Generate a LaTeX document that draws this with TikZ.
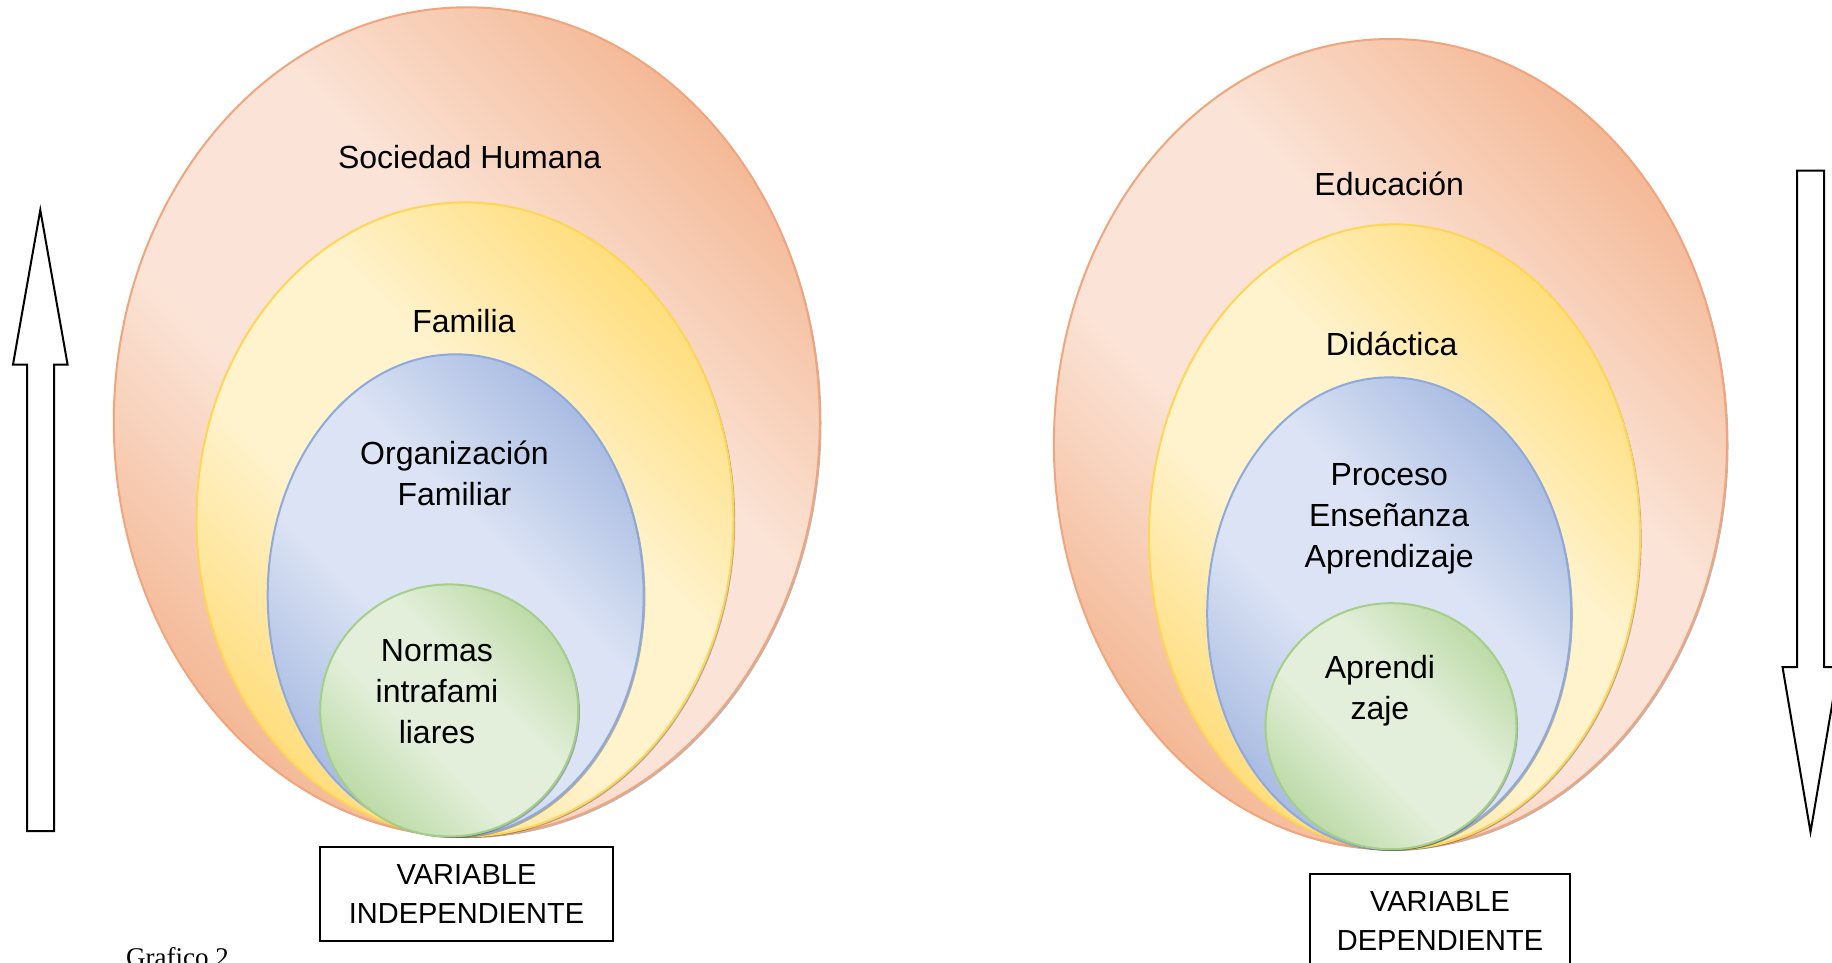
\documentclass[tikz,border=0pt]{standalone}
\usepackage{fontspec}
\setmainfont{Liberation Sans}
\newfontfamily\serifrm{Liberation Serif}
\usetikzlibrary{shapes.geometric}
\definecolor{orD}{HTML}{F3B28C}
\definecolor{orL}{HTML}{FBE4D7}
\definecolor{orE}{HTML}{F2A57C}
\definecolor{yeD}{HTML}{FFDA70}
\definecolor{yeL}{HTML}{FFF3CE}
\definecolor{yeE}{HTML}{FFD555}
\definecolor{blD}{HTML}{A2B6E0}
\definecolor{blL}{HTML}{DBE3F4}
\definecolor{blE}{HTML}{8EA9DB}
\definecolor{grD}{HTML}{B6D79F}
\definecolor{grL}{HTML}{E3EFDA}
\definecolor{grE}{HTML}{A5CF89}
\pgfdeclareverticalshading{orsh}{100bp}{color(0bp)=(orD); color(22bp)=(orD); color(42bp)=(orL); color(58bp)=(orL); color(78bp)=(orD); color(100bp)=(orD)}
\pgfdeclareverticalshading{yesh}{100bp}{color(0bp)=(yeD); color(22bp)=(yeD); color(42bp)=(yeL); color(58bp)=(yeL); color(78bp)=(yeD); color(100bp)=(yeD)}
\pgfdeclareverticalshading{blsh}{100bp}{color(0bp)=(blD); color(22bp)=(blD); color(42bp)=(blL); color(58bp)=(blL); color(78bp)=(blD); color(100bp)=(blD)}
\pgfdeclareverticalshading{grsh}{100bp}{color(0bp)=(grD); color(22bp)=(grD); color(42bp)=(grL); color(58bp)=(grL); color(78bp)=(grD); color(100bp)=(grD)}
\tikzset{
  ring/.style={ellipse, inner sep=0pt, outer sep=0pt, line width=2pt},
  orring/.style={ring, draw=orE, shading=orsh, shading angle=-45},
  yering/.style={ring, draw=yeE, shading=yesh, shading angle=-45},
  blring/.style={ring, draw=blE, shading=blsh, shading angle=-45},
  grring/.style={ring, draw=grE, shading=grsh, shading angle=-45},
  shring/.style={ellipse, inner sep=0pt, outer sep=0pt, fill=black, opacity=0.28},
  lbl/.style={font=\fontsize{32}{41}\selectfont, align=center, inner sep=0pt, text=black},
  vbox/.style={draw=black, line width=2pt, fill=white, font=\fontsize{29}{38.6}\selectfont, align=center, inner sep=0pt},
  barrow/.style={draw=black, fill=white, line width=2pt, line join=miter}
}
\begin{document}
\begin{tikzpicture}[x=1pt,y=-1pt]
\useasboundingbox (0,0) rectangle (1832,962);
\fill[white] (0,0) rectangle (1832,962);
\clip (0,0) rectangle (1832,962);
% ---- left diagram ----
\node[shring, minimum width=706pt, minimum height=829pt] (soc-s) at (468.5,423.5) {};
\node[orring, minimum width=706pt, minimum height=829pt] (soc) at (466.8,421.8) {};
\node[shring, minimum width=537pt, minimum height=634pt] (fam-s) at (466.7,521) {};
\node[yering, minimum width=537pt, minimum height=634pt] (fam) at (465,519.4) {};
\node[shring, minimum width=376pt, minimum height=482pt] (org-s) at (457.4,597) {};
\node[blring, minimum width=376pt, minimum height=482pt] (org) at (455.7,595.3) {};
\node[shring, minimum width=258pt, minimum height=252pt] (nor-s) at (451,712) {};
\node[grring, minimum width=258pt, minimum height=252pt] (nor) at (449.2,710.4) {};
\node[lbl] (t-soc) at (469.7,157) {Sociedad Humana};
\node[lbl] (t-fam) at (463.9,321) {Familia};
\node[lbl] (t-org) at (454.5,473.5) {Organización\\Familiar};
\node[lbl] (t-nor) at (437,692) {Normas\\intrafami\\liares};
% ---- right diagram ----
\node[shring, minimum width=673pt, minimum height=810pt] (edu-s) at (1392,445.6) {};
\node[orring, minimum width=673pt, minimum height=810pt] (edu) at (1390.4,444) {};
\node[shring, minimum width=491pt, minimum height=625pt] (did-s) at (1396.1,538.5) {};
\node[yering, minimum width=491pt, minimum height=625pt] (did) at (1394.5,536.9) {};
\node[shring, minimum width=364pt, minimum height=472pt] (pea-s) at (1390.8,615) {};
\node[blring, minimum width=364pt, minimum height=472pt] (pea) at (1389.2,613.4) {};
\node[shring, minimum width=251pt, minimum height=246pt] (apr-s) at (1392.6,727.8) {};
\node[grring, minimum width=251pt, minimum height=246pt] (apr) at (1391,726.2) {};
\node[lbl] (t-edu) at (1389.2,184) {Educación};
\node[lbl] (t-did) at (1391.6,343.5) {Didáctica};
\node[lbl] (t-pea) at (1389.2,519) {Proceso\\Enseñanza\\Aprendizaje};
\node[lbl] (t-apr) at (1379.9,690.5) {Aprendi\\zaje};
% ---- boxes ----
\node[vbox, minimum width=293pt, minimum height=94pt] (vind) at (466.5,894) {VARIABLE\\INDEPENDIENTE};
\node[vbox, minimum width=260pt, minimum height=94pt] (vdep) at (1440,921.3) {VARIABLE\\DEPENDIENTE};
% ---- block arrows ----
\draw[barrow] (27,831) -- (27,364.5) -- (13,364.5) -- (40.3,210) -- (67.6,364.5) -- (54,364.5) -- (54,831) -- cycle;
\draw[barrow] (1797,170.6) -- (1824,170.6) -- (1824,667) -- (1838.5,667) -- (1810.5,832) -- (1782.5,667) -- (1797,667) -- cycle;
% ---- caption ----
\node[anchor=base west, inner sep=0pt, font=\serifrm\fontsize{27}{32}\selectfont] (cap) at (126,966) {Grafico 2};
\end{tikzpicture}
\end{document}
